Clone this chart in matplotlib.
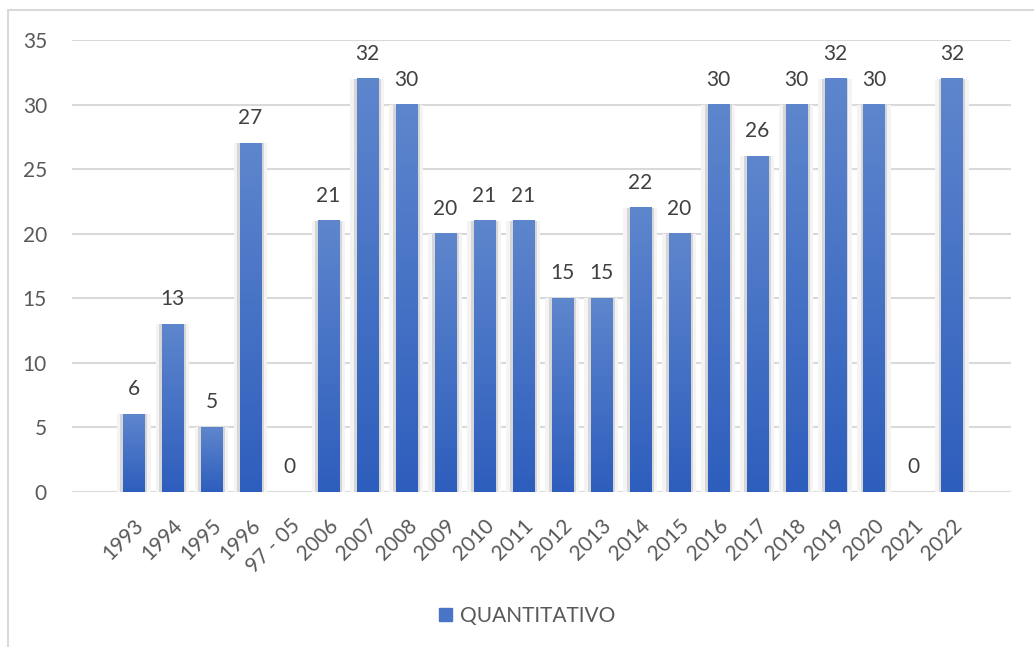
import matplotlib.pyplot as plt
import numpy as np
from matplotlib.patches import Rectangle, Patch

plt.rcParams['font.family'] = ['Lato', 'DejaVu Sans']

categories = ['1993', '1994', '1995', '1996', '97 - 05', '2006', '2007', '2008', '2009',
              '2010', '2011', '2012', '2013', '2014', '2015', '2016', '2017', '2018',
              '2019', '2020', '2021', '2022']
values = [6, 13, 5, 27, 0, 21, 32, 30, 20, 21, 21, 15, 15, 22, 20, 30, 26, 30, 32, 30, 0, 32]
series_name = 'QUANTITATIVO'

text_color = '#595959'
grid_color = '#d9d9d9'
top_color = np.array([0x5e, 0x86, 0xcd]) / 255
bottom_color = np.array([0x2e, 0x5e, 0xbd]) / 255

fig = plt.figure(figsize=(10.34, 6.47), dpi=100)
ax = fig.add_axes([0.0696, 0.2396, 0.9082, 0.6986])

x = np.arange(len(categories))
w = 0.55

# soft shadow behind bars
ax.bar(x, values, width=w + 0.32, color='#f4f4f4', zorder=1)
ax.bar(x, values, width=w + 0.13, color='#d6d6d6', zorder=1.5)

# vertical gradient for each bar
grad = np.linspace(0, 1, 100)[:, None, None]
img = grad * bottom_color + (1 - grad) * top_color
for xi, v in zip(x, values):
    if v > 0:
        ax.imshow(img, extent=(xi - w / 2, xi + w / 2, 0, v), aspect='auto',
                  origin='upper', zorder=2.5, interpolation='bilinear')

for xi, v in zip(x, values):
    ax.annotate(str(v), (xi, v), xytext=(0, 18), textcoords='offset points',
                ha='center', va='center', fontsize=15, color='#404040')

ax.set_xlim(-1.58, 22.51)
ax.set_ylim(0, 35)
ax.set_yticks(range(0, 36, 5))
ax.set_xticks(x)
ax.set_xticklabels(categories, rotation=45, ha='right', rotation_mode='anchor')
ax.tick_params(axis='both', length=0, labelsize=15, labelcolor=text_color)
ax.tick_params(axis='y', pad=18)
ax.tick_params(axis='x', pad=17)
ax.grid(axis='y', color=grid_color, linewidth=1.5, zorder=0)
ax.set_axisbelow(True)
for s in ax.spines.values():
    s.set_visible(False)

# outer chart border (cut off at right and bottom like the reference)
fig.patches.append(Rectangle((8 / 1034, -0.05), 1.1, 1 - 10 / 647 + 0.05,
                             transform=fig.transFigure, fill=False,
                             edgecolor='#d9d9d9', linewidth=1.5))

fig.legend(handles=[Patch(color='#4a74c6', label=series_name)], loc='center',
           bbox_to_anchor=(0.51, 0.048), frameon=False, fontsize=15,
           labelcolor=text_color, handlelength=0.6, handleheight=0.6,
           handletextpad=0.4)

fig.savefig('out.png', dpi=100)
